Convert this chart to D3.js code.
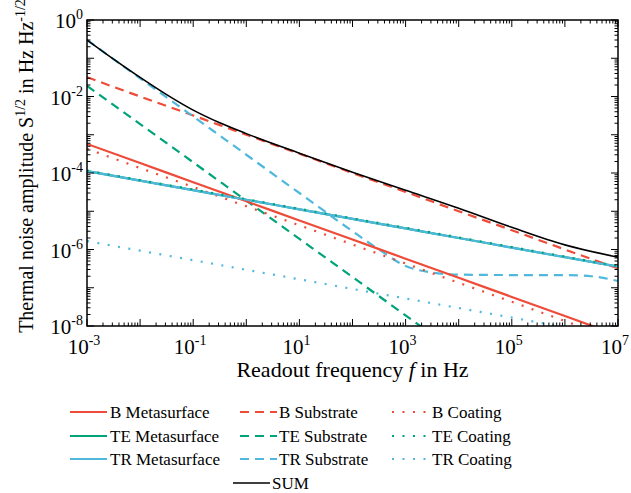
<!DOCTYPE html>
<html>
<head>
<meta charset="utf-8">
<script src="https://cdn.jsdelivr.net/npm/d3@7"></script>
<style>
  body { margin: 0; background: #fff; }
  text { font-family: "Liberation Serif", "DejaVu Serif", serif; fill: #000; }
</style>
</head>
<body>
<div id="chart"></div>
<script>
// frequencies (Hz) at each decade
const fDec = [1e-3, 1e-2, 1e-1, 1, 1e1, 1e2, 1e3, 1e4, 1e5, 1e6, 1e7];

// amplitudes at fDec
const bMeta  = [5.75e-4, 1.82e-4, 5.75e-5, 1.82e-5, 5.75e-6, 1.82e-6, 5.75e-7, 1.82e-7, 5.75e-8, 1.82e-8, 5.75e-9];
const bSub   = [3.2e-2, 1.0e-2, 3.2e-3, 1.0e-3, 3.2e-4, 1.0e-4, 3.2e-5, 1.0e-5, 3.2e-6, 1.0e-6, 3.2e-7];
const bCoat  = [4.3e-4, 1.35e-4, 4.3e-5, 1.35e-5, 4.3e-6, 1.35e-6, 4.3e-7, 1.35e-7, 4.3e-8, 1.35e-8, 4.3e-9];
const teMeta = [1.12e-4, 6.3e-5, 3.55e-5, 2.0e-5, 1.12e-5, 6.3e-6, 3.55e-6, 2.0e-6, 1.12e-6, 6.3e-7, 3.55e-7];
const teSub  = [1.9e-2, 1.9e-3, 1.9e-4, 1.9e-5, 1.9e-6, 1.9e-7, 1.9e-8, 1.9e-9, 1.9e-10, 1.9e-11, 1.9e-12];
const teCoat = [1.16e-4, 6.5e-5, 3.7e-5, 2.07e-5, 1.16e-5, 6.5e-6, 3.7e-6, 2.07e-6, 1.16e-6, 6.5e-7, 3.7e-7];
const trMeta = [1.12e-4, 6.3e-5, 3.55e-5, 2.0e-5, 1.12e-5, 6.3e-6, 3.55e-6, 2.0e-6, 1.12e-6, 6.3e-7, 3.55e-7];
const trCoat = [1.66e-6, 9.3e-7, 5.25e-7, 2.95e-7, 1.66e-7, 9.3e-8, 5.25e-8, 2.95e-8, 1.66e-8, 9.3e-9, 5.25e-9];

// TR substrate has a floor, read on a finer grid
const fTrSub = [1e-3, 1e-2, 1e-1, 1, 1e1, 1e2, 316, 1e3, 3162, 1e4, 1e5, 1e6, 3.16e6, 1e7];
const trSub  = [0.30, 0.030, 3.0e-3, 3.0e-4, 3.0e-5, 3.0e-6, 1.0e-6, 3.7e-7, 2.5e-7, 2.2e-7, 2.15e-7, 2.15e-7, 2.0e-7, 1.5e-7];

// total
const fSum = [1e-3, 3.16e-3, 1e-2, 3.16e-2, 1e-1, 0.316, 1, 1e1, 1e2, 1e3, 1e4, 1e5, 1e6, 1e7];
const sum  = [0.30, 0.095, 0.0316, 0.0112, 4.4e-3, 2.05e-3, 1.07e-3, 3.3e-4, 1.05e-4, 3.55e-5, 1.2e-5, 3.8e-6, 1.32e-6, 6.3e-7];

const xTickLabels = [-3, -1, 1, 3, 5, 7];
const yTickLabels = [0, -2, -4, -6, -8];

const red = "#ee4b39", green = "#00a37a", cyan = "#4fb8dc";

const series = [
  {name: "B Metasurface",  f: fDec, v: bMeta,  color: red,   dash: null},
  {name: "TE Metasurface", f: fDec, v: teMeta, color: green, dash: null},
  {name: "TR Metasurface", f: fDec, v: trMeta, color: cyan,  dash: null},
  {name: "B Substrate",    f: fDec, v: bSub,   color: red,   dash: "9,6"},
  {name: "TE Substrate",   f: fDec, v: teSub,  color: green, dash: "9,6"},
  {name: "TR Substrate",   f: fTrSub, v: trSub, color: cyan, dash: "9,6"},
  {name: "B Coating",      f: fDec, v: bCoat,  color: red,   dash: "2,8.5"},
  {name: "TE Coating",     f: fDec, v: teCoat, color: green, dash: "2,8.5"},
  {name: "TR Coating",     f: fDec, v: trCoat, color: cyan,  dash: "2,8.5"},
  {name: "SUM",            f: fSum, v: sum,    color: "#000", dash: null}
];

const width = 631, height = 493;
const margin = {left: 87, top: 20, right: 13, bottom: 167};

const svg = d3.select("#chart").append("svg")
    .attr("width", width)
    .attr("height", height);

const x = d3.scaleLog().domain([1e-3, 1e7]).range([margin.left, width - margin.right]);
const y = d3.scaleLog().domain([1e-8, 1]).range([height - margin.bottom, margin.top]);

svg.append("clipPath").attr("id", "clip")
  .append("rect")
    .attr("x", margin.left).attr("y", margin.top)
    .attr("width", x.range()[1] - margin.left)
    .attr("height", y.range()[0] - margin.top);

const line = d3.line()
    .x(d => x(d[0]))
    .y(d => y(d[1]))
    .curve(d3.curveMonotoneX);

// draw order: metasurface green below cyan
const order = ["TE Metasurface", "TE Substrate", "B Substrate", "TR Substrate", "B Coating", "TR Coating",
               "B Metasurface", "TR Metasurface", "TE Coating", "SUM"];

svg.append("g")
    .attr("clip-path", "url(#clip)")
  .selectAll("path")
  .data(order.map(n => series.find(s => s.name === n)))
  .join("path")
    .attr("fill", "none")
    .attr("stroke", d => d.color)
    .attr("stroke-width", d => d.name === "SUM" ? 1.6 : 2.2)
    .attr("stroke-dasharray", d => d.dash)
    .attr("d", d => line(d.f.map((f, i) => [f, d.v[i]])));

// ticks, all pointing inward
const xMajor = d3.range(-3, 8).map(e => Math.pow(10, e));
const yMajor = d3.range(-8, 1).map(e => Math.pow(10, e));
const minorOf = majors => majors.slice(0, -1).flatMap(m => d3.range(2, 10).map(k => k * m));
const xTicks = xMajor.concat(minorOf(xMajor));
const yTicks = yMajor.concat(minorOf(yMajor));
const isMajor = v => Math.abs(Math.log10(v) - Math.round(Math.log10(v))) < 1e-9;

const tickLen = v => isMajor(v) ? 7 : 3.5;
const x0 = x.range()[0], x1 = x.range()[1], y0 = y.range()[0], y1 = y.range()[1];

const ticks = svg.append("g").attr("stroke", "#000").attr("stroke-width", 1);
ticks.selectAll(".xb").data(xTicks).join("line")
    .attr("x1", d => x(d)).attr("x2", d => x(d))
    .attr("y1", y0).attr("y2", d => y0 - tickLen(d));
ticks.selectAll(".xt").data(xTicks).join("line")
    .attr("x1", d => x(d)).attr("x2", d => x(d))
    .attr("y1", y1).attr("y2", d => y1 + tickLen(d));
ticks.selectAll(".yl").data(yTicks).join("line")
    .attr("y1", d => y(d)).attr("y2", d => y(d))
    .attr("x1", x0).attr("x2", d => x0 + tickLen(d));
ticks.selectAll(".yr").data(yTicks).join("line")
    .attr("y1", d => y(d)).attr("y2", d => y(d))
    .attr("x1", x1).attr("x2", d => x1 - tickLen(d));

svg.append("rect")
    .attr("x", x0).attr("y", y1)
    .attr("width", x1 - x0).attr("height", y0 - y1)
    .attr("fill", "none").attr("stroke", "#000").attr("stroke-width", 1.5);

// tick labels 10^n
const pow10 = (sel, e) => {
  sel.append("tspan").text("10");
  sel.append("tspan").attr("dy", -9).attr("font-size", 14).text(e);
};
svg.append("g").selectAll("text").data(xTickLabels).join("text")
    .attr("x", d => x(Math.pow(10, d)) - 3)
    .attr("y", y0 + 28)
    .attr("text-anchor", "middle")
    .attr("font-size", 21)
    .each(function(d) { pow10(d3.select(this), d); });
svg.append("g").selectAll("text").data(yTickLabels).join("text")
    .attr("x", x0 - 4)
    .attr("y", d => y(Math.pow(10, d)) + 8)
    .attr("text-anchor", "end")
    .attr("font-size", 21)
    .each(function(d) { pow10(d3.select(this), d); });

// axis titles
const xt = svg.append("text")
    .attr("x", (x0 + x1) / 2)
    .attr("y", 377)
    .attr("text-anchor", "middle")
    .attr("font-size", 22);
xt.append("tspan").text("Readout frequency ");
xt.append("tspan").attr("font-style", "italic").text("f");
xt.append("tspan").text(" in Hz");

const yt = svg.append("text")
    .attr("transform", `translate(33,166) rotate(-90)`)
    .attr("text-anchor", "middle")
    .attr("font-size", 20);
yt.append("tspan").text("Thermal noise amplitude S");
yt.append("tspan").attr("dy", -8).attr("font-size", 14).text("1/2");
yt.append("tspan").attr("dy", 8).text(" in Hz Hz");
yt.append("tspan").attr("dy", -8).attr("font-size", 14).text("-1/2");

// legend
const legendPos = [
  {name: "B Metasurface",  lx: 70,  tx: 110, y: 412},
  {name: "TE Metasurface", lx: 70,  tx: 110, y: 436},
  {name: "TR Metasurface", lx: 70,  tx: 110, y: 459},
  {name: "B Substrate",    lx: 240, tx: 279, y: 412},
  {name: "TE Substrate",   lx: 240, tx: 279, y: 436},
  {name: "TR Substrate",   lx: 240, tx: 279, y: 459},
  {name: "B Coating",      lx: 392, tx: 432, y: 412},
  {name: "TE Coating",     lx: 392, tx: 432, y: 436},
  {name: "TR Coating",     lx: 392, tx: 432, y: 459},
  {name: "SUM",            lx: 233, tx: 272, y: 483}
];
const leg = svg.append("g").selectAll("g")
  .data(legendPos.map(p => Object.assign({}, p, series.find(s => s.name === p.name))))
  .join("g");
leg.append("line")
    .attr("x1", d => d.lx).attr("x2", d => d.lx + 37)
    .attr("y1", d => d.y).attr("y2", d => d.y)
    .attr("stroke", d => d.color)
    .attr("stroke-width", d => d.name === "SUM" ? 1.6 : 2.2)
    .attr("stroke-dasharray", d => d.dash);
leg.append("text")
    .attr("x", d => d.tx)
    .attr("y", d => d.y + 6)
    .attr("font-size", 17)
    .text(d => d.name);
</script>
</body>
</html>
